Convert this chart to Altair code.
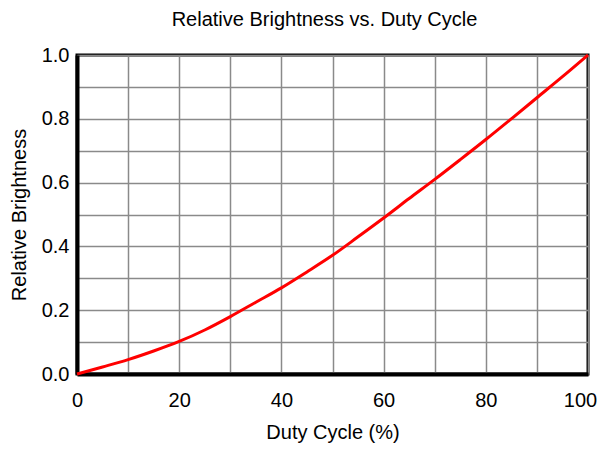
import altair as alt
import pandas as pd

duty = [0, 5, 10, 15, 20, 25, 30, 35, 40, 45, 50, 55, 60, 65, 70, 75, 80, 85, 90, 95, 100]
brightness = [0.0, 0.022, 0.045, 0.072, 0.102, 0.138, 0.18, 0.225, 0.27, 0.32, 0.372,
              0.43, 0.489, 0.55, 0.61, 0.672, 0.735, 0.80, 0.866, 0.932, 1.0]

df = pd.DataFrame({"duty": duty, "b": brightness})

x_vals = list(range(0, 101, 10))
y_vals = [round(i * 0.1, 1) for i in range(11)]

chart = alt.Chart(df).mark_line(color="#ff0000", strokeWidth=3, interpolate="monotone").encode(
    x=alt.X("duty:Q", scale=alt.Scale(domain=[0, 100], nice=False),
            axis=alt.Axis(title="Duty Cycle (%)", values=x_vals,
                          labelExpr="datum.value % 20 === 0 ? datum.label : ''",
                          labelOffset={"condition": {"test": "datum.value === 100", "value": -8}, "value": 0},
                          format="d", labelPadding=16, titlePadding=12)),
    y=alt.Y("b:Q", scale=alt.Scale(domain=[0, 1], nice=False),
            axis=alt.Axis(title="Relative Brightness", values=y_vals,
                          labelPadding=8, titlePadding=12,
                          labelExpr="round(datum.value * 10) % 2 === 0 ? format(datum.value, '.1f') : ''")),
).properties(
    width=511, height=319,
    autosize=alt.AutoSizeParams(type="none"),
    padding={"left": 69, "top": 47, "right": 9, "bottom": 70},
    title=alt.TitleParams("Relative Brightness vs. Duty Cycle", fontSize=20,
                          font="Liberation Sans", fontWeight="normal", offset=15,
                          dx=-8, color="black"),
).configure_axis(
    grid=True, gridColor="#8a8a8a", gridWidth=1.5, gridOpacity=1,
    domainColor="black", domainWidth=4, ticks=False,
    labelFont="Liberation Sans", labelFontSize=20, labelColor="black",
    titleFont="Liberation Sans", titleFontSize=20, titleFontWeight="normal", titleColor="black",
    labelFlush=False, labelOverlap=False,
).configure_view(
    stroke="black", strokeWidth=3
)

chart.save("out.html", embed_options={"renderer": "svg", "actions": False})
